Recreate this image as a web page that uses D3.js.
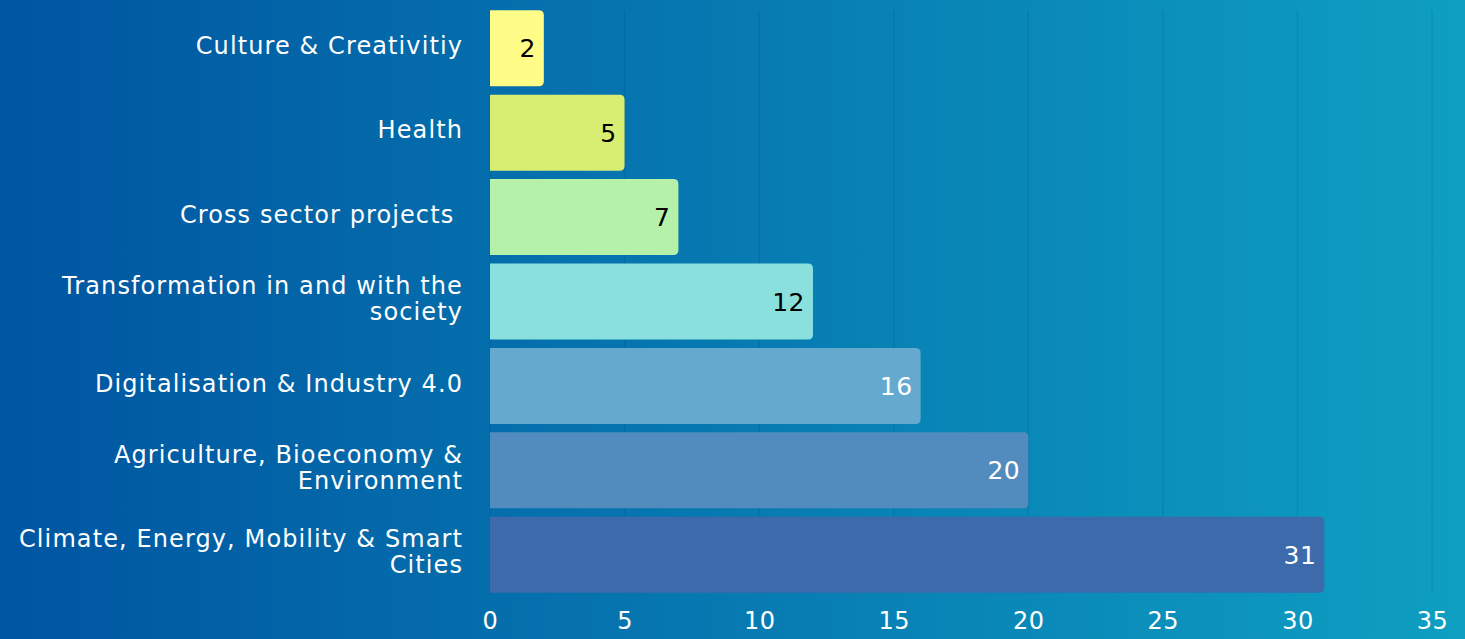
<!DOCTYPE html>
<html><head><meta charset="utf-8">
<script src="https://cdn.jsdelivr.net/npm/d3@7/dist/d3.min.js"></script>
<style>
html,body{margin:0;padding:0;overflow:hidden;}
svg{display:block;}
text{font-family:"DejaVu Sans","Open Sans",sans-serif;}
</style></head>
<body>
<script>
const categories = [
  ["Culture & Creativitiy"],
  ["Health"],
  ["Cross sector projects "],
  ["Transformation in and with the", "society"],
  ["Digitalisation & Industry 4.0"],
  ["Agriculture, Bioeconomy &", "Environment"],
  ["Climate, Energy, Mobility & Smart", "Cities"]
];
const values = [2, 5, 7, 12, 16, 20, 31];
const barColors = ["#fffc87", "#d8ee72", "#b5f1a8", "#89e0dd", "#66a9cf", "#528cbf", "#3d6aaa"];
const valueTextColors = ["#000", "#000", "#000", "#000", "#fff", "#fff", "#fff"];
const xTicks = [0, 5, 10, 15, 20, 25, 30, 35];

const W = 1465, H = 639;
const FS = 24;
const svg = d3.select("body").append("svg").attr("width", W).attr("height", H);
const defs = svg.append("defs");
const grad = defs.append("linearGradient").attr("id", "bg").attr("x1", "0").attr("x2", "1").attr("y1", "0").attr("y2", "0");
grad.append("stop").attr("offset", "0").attr("stop-color", "#0055a1");
grad.append("stop").attr("offset", "1").attr("stop-color", "#0e9fc2");
svg.append("rect").attr("width", W).attr("height", H).attr("fill", "url(#bg)");

const x = d3.scaleLinear().domain([0, 35]).range([490, 1432]);
const y = d3.scaleBand().domain(d3.range(values.length)).range([6, 597]).paddingInner(0.1).paddingOuter(0.05);

// gridlines
svg.append("g").selectAll("line").data(xTicks).join("line")
  .attr("x1", d => x(d)).attr("x2", d => x(d))
  .attr("y1", y(0)).attr("y2", y(values.length - 1) + y.bandwidth())
  .attr("stroke", "rgba(0,60,120,0.18)").attr("stroke-width", 1.2);

// bars
svg.append("g").selectAll("path").data(values).join("path")
  .attr("fill", (d, i) => barColors[i])
  .attr("d", (d, i) => {
    const x0 = x(0), x1 = x(d), y0 = y(i), h = y.bandwidth(), r = 5;
    return `M${x0},${y0} H${x1 - r} Q${x1},${y0} ${x1},${y0 + r} V${y0 + h - r} Q${x1},${y0 + h} ${x1 - r},${y0 + h} H${x0} Z`;
  });

// value labels
svg.append("g").selectAll("text").data(values).join("text")
  .attr("x", d => x(d) - 8)
  .attr("y", (d, i) => y(i) + y.bandwidth() / 2)
  .attr("dy", "0.36em")
  .attr("text-anchor", "end")
  .attr("font-size", 25)
  .attr("letter-spacing", 0.5)
  .attr("fill", (d, i) => valueTextColors[i])
  .text(d => d);

// category labels (one text per line)
const LH = 26;
const catG = svg.append("g");
categories.forEach((lines, i) => {
  const cy = y(i) + y.bandwidth() / 2 - 3;
  lines.forEach((line, k) => {
    catG.append("text")
      .attr("text-anchor", "end")
      .attr("font-size", FS)
      .attr("letter-spacing", 1.1)
      .attr("fill", "#fff")
      .attr("x", 463)
      .attr("y", cy + (k - (lines.length - 1) / 2) * LH)
      .attr("dy", "0.36em")
      .attr("xml:space", "preserve")
      .text(line);
  });
});

// x axis
const axis = svg.append("g").attr("transform", "translate(0,597)")
  .call(d3.axisBottom(x).tickValues(xTicks).tickSize(0).tickPadding(15));
axis.select(".domain").remove();
axis.selectAll("text").attr("font-size", FS).attr("fill", "#fff").attr("letter-spacing", 0.5).attr("font-family", "'DejaVu Sans','Open Sans',sans-serif");
</script>
</body></html>
